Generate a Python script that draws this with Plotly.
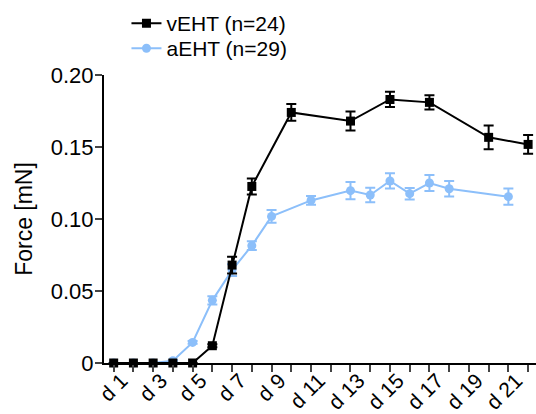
import plotly.graph_objects as go

days_v = [1, 2, 3, 4, 5, 6, 7, 8, 10, 13, 15, 17, 20, 22]
force_v = [0, 0, 0, 0, 0, 0.012, 0.068, 0.1226, 0.174, 0.168, 0.183, 0.181, 0.1567, 0.1518]
err_v = [0, 0, 0, 0, 0, 0.001, 0.0058, 0.0056, 0.0058, 0.0066, 0.0053, 0.0049, 0.0083, 0.0065]

days_a = [1, 2, 3, 4, 5, 6, 7, 8, 9, 11, 13, 14, 15, 16, 17, 18, 21]
force_a = [0, 0, 0, 0.0016, 0.0143, 0.0435, 0.0645, 0.0815, 0.1018, 0.1129, 0.1197, 0.1167, 0.1264, 0.1176, 0.125, 0.121, 0.1155]
err_a = [0, 0, 0, 0.0005, 0.001, 0.0028, 0.004, 0.003, 0.0044, 0.003, 0.006, 0.005, 0.0053, 0.004, 0.0056, 0.0054, 0.0056]

tick_days = list(range(1, 23))
tick_labels = [f"d {d}" if d % 2 == 1 else "" for d in tick_days]
y_ticks = [0, 0.05, 0.10, 0.15, 0.20]
y_labels = ["0", "0.05", "0.10", "0.15", "0.20"]

BLUE = "#8CBFFA"
FONT = "Arial, Liberation Sans, sans-serif"

fig = go.Figure()
fig.add_trace(go.Scatter(
    x=days_a, y=force_a, name="aEHT (n=29)", mode="lines+markers",
    line=dict(color=BLUE, width=2),
    marker=dict(symbol="circle", size=9, color=BLUE),
    error_y=dict(type="data", array=err_a, color=BLUE, thickness=2, width=5),
    cliponaxis=False, legend="legend2",
))
fig.add_trace(go.Scatter(
    x=days_v, y=force_v, name="vEHT (n=24)", mode="lines+markers",
    line=dict(color="black", width=2),
    marker=dict(symbol="square", size=9, color="black"),
    error_y=dict(type="data", array=err_v, color="black", thickness=2, width=5),
    cliponaxis=False, legend="legend",
))

leg_common = dict(xanchor="left", yanchor="top", font=dict(size=21),
                  itemwidth=30, bgcolor="rgba(0,0,0,0)")

fig.update_layout(
    width=536, height=414,
    margin=dict(l=104, r=0, t=75, b=51),
    paper_bgcolor="white", plot_bgcolor="white",
    font=dict(family=FONT, size=22, color="black"),
    showlegend=True,
    legend=dict(x=0.052, y=1.25, **leg_common),
    legend2=dict(x=0.052, y=1.163, **leg_common),
    xaxis=dict(range=[0.51, 22.4], tickvals=tick_days, ticktext=tick_labels,
               tickangle=-45, ticks="outside", ticklen=7, tickwidth=2,
               ticklabelstandoff=-12, ticklabelshift=8,
               showline=True, linewidth=2, linecolor="black", automargin=False,
               showgrid=False, zeroline=False, tickfont=dict(size=21)),
    yaxis=dict(range=[0, 0.2], tickvals=y_ticks, ticktext=y_labels,
               ticks="outside", ticklen=7, tickwidth=2, automargin=False,
               ticklabelstandoff=-3,
               showline=True, linewidth=2, linecolor="black",
               showgrid=False, zeroline=False, tickfont=dict(size=22),
               title=dict(text="Force [mN]", font=dict(size=23), standoff=12)),
)

fig.write_html("out.html")
